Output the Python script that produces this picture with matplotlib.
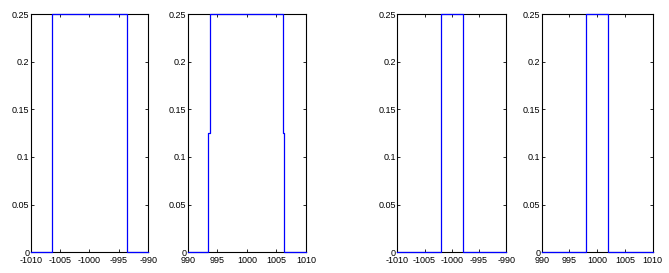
import matplotlib
matplotlib.use("Agg")
import matplotlib.pyplot as plt

plt.rcParams['font.family'] = ['Liberation Sans', 'DejaVu Sans']

# Panel data (step outlines)
x1 = [-1010, -1006.3, -1006.3, -993.7, -993.7, -990]
y1 = [0, 0, 0.25, 0.25, 0, 0]

x2 = [990, 993.5, 993.5, 993.7, 993.7, 1006.1, 1006.1, 1006.3, 1006.3, 1010]
y2 = [0, 0, 0.125, 0.125, 0.25, 0.25, 0.125, 0.125, 0, 0]

x3 = [-1010, -1002, -1002, -998, -998, -990]
y3 = [0, 0, 0.25, 0.25, 0, 0]

x4 = [990, 998, 998, 1002, 1002, 1010]
y4 = [0, 0, 0.25, 0.25, 0, 0]

xlims = [(-1010, -990), (990, 1010), (-1010, -990), (990, 1010)]
xticks = [[-1010, -1005, -1000, -995, -990], [990, 995, 1000, 1005, 1010],
          [-1010, -1005, -1000, -995, -990], [990, 995, 1000, 1005, 1010]]
yticks = [0, 0.05, 0.1, 0.15, 0.2, 0.25]
ytick_labels = ['0', '0.05', '0.1', '0.15', '0.2', '0.25']

W, H = 669, 273
fig = plt.figure(figsize=(W / 100, H / 100), dpi=100)

boxes = [(30.7, 148.3), (187.7, 306.0), (397.3, 506.3), (541.7, 652.7)]
top_px, bot_px = 14.0, 252.3

series = [(x1, y1), (x2, y2), (x3, y3), (x4, y4)]
for (l, r), (xs, ys), xl, xt in zip(boxes, series, xlims, xticks):
    ax = fig.add_axes([l / W, 1 - bot_px / H, (r - l) / W, (bot_px - top_px) / H])
    ax.plot(xs, ys, color='#0000ff', linewidth=0.9, clip_on=False, zorder=3)
    ax.set_xlim(*xl)
    ax.set_ylim(0, 0.25)
    ax.set_xticks(xt)
    ax.set_xticklabels([str(v).replace('-', '\u2212') if False else str(v) for v in xt])
    ax.set_yticks(yticks)
    ax.set_yticklabels(ytick_labels)
    ax.tick_params(direction='in', length=2.5, width=0.6, labelsize=6.5,
                   top=True, right=True)
    ax.tick_params(axis='x', pad=2.5)
    ax.tick_params(axis='y', pad=1.0)
    for s in ax.spines.values():
        s.set_linewidth(0.8)

fig.savefig('out.png', dpi=100)
